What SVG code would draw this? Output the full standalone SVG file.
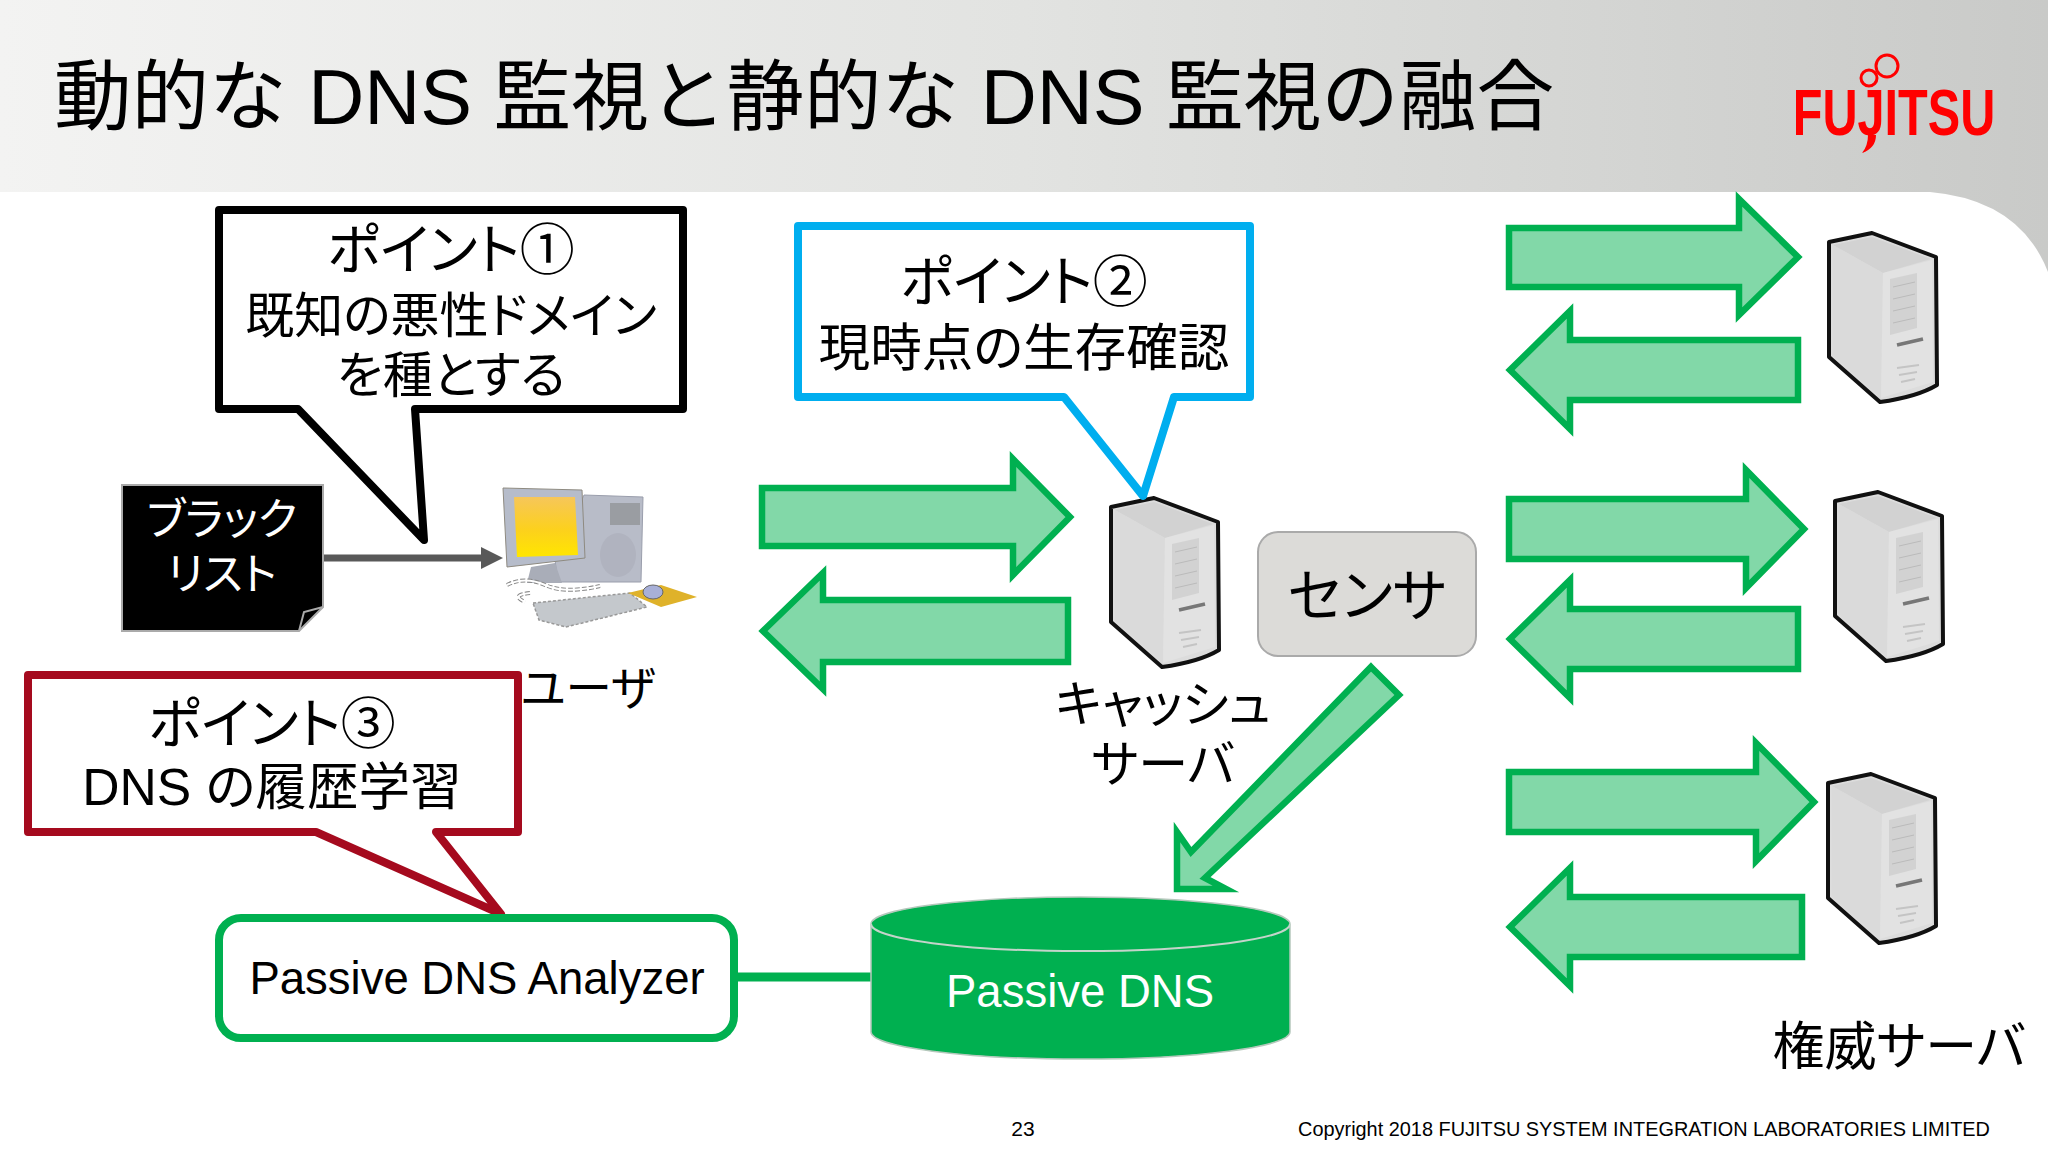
<svg xmlns="http://www.w3.org/2000/svg" xmlns:xlink="http://www.w3.org/1999/xlink" width="2048" height="1152" viewBox="0 0 2048 1152">
<style>
text{font-family:"Liberation Sans","Noto Sans CJK JP",sans-serif;fill:#000;text-anchor:middle;font-feature-settings:"palt"}
.arrow{fill:#82d8a8;stroke:#00b050;stroke-width:6.5;stroke-miterlimit:10}
.callout{fill:#fff;stroke-width:8;stroke-linejoin:round}
.t49{font-size:49px}.t50{font-size:50px}.t52{font-size:51.6px}.t55{font-size:55px}.t45{font-size:45.5px}
</style>
<defs>
<linearGradient id="hdr" x1="0" y1="0" x2="1" y2="0"><stop offset="0" stop-color="#f3f3f2"/><stop offset="0.5" stop-color="#e2e3e1"/><stop offset="1" stop-color="#c9cac8"/></linearGradient>
<linearGradient id="scr" x1="0" y1="0" x2="0" y2="1"><stop offset="0" stop-color="#f6c65a"/><stop offset="0.55" stop-color="#fcd11c"/><stop offset="1" stop-color="#ffe600"/></linearGradient>
<g id="server">
<path d="M2 10L45 1L109 25L110 153Q90 165 53 170L2 125Z" fill="#dcdcdc"/>
<path d="M6 13L45 5L104 27L56 41Z" fill="#d2d2d2"/>
<path d="M6 13L56 41L54 166L6 123Z" fill="#dadada"/>
<path d="M56 41L105 28L106 150L54 166Z" fill="#e2e2e2"/>
<path d="M63 47L90 41L90 96L63 103Z" fill="#d2d2d2"/>
<path d="M66 55L88 50M66 67L88 62M66 79L88 74M66 91L88 86" stroke="#bbb" stroke-width="1"/>
<path d="M70 113L96 107" stroke="#777" stroke-width="3.5"/>
<path d="M70 136L92 133M72 143L90 140M74 150L88 147" stroke="#c4c4c4" stroke-width="2"/>
<path d="M2 10L45 1L109 25L110 153Q90 165 53 170L2 125Z" fill="none" stroke="#111" stroke-width="4" stroke-linejoin="round"/>
</g>
</defs>
<rect width="2048" height="1152" fill="#fff"/>
<path id="header" d="M0 0H2048V272Q2020 200 1930 192H0Z" fill="url(#hdr)"/>
<text x="804" y="124" style="font-size:77.6px;font-feature-settings:normal">動的な DNS 監視と静的な DNS 監視の融合</text>
<g id="logo">
<text transform="translate(1894 135) scale(.76 1)" style="font-size:64px;font-weight:bold;fill:#f00;font-family:'Liberation Sans',sans-serif">FUJITSU</text>
<circle cx="1869" cy="78" r="8" fill="none" stroke="#f00" stroke-width="3"/>
<circle cx="1887" cy="66" r="11" fill="none" stroke="#f00" stroke-width="3"/>
<path d="M1868 135L1876 135Q1876 148 1862 153Q1868 146 1868 135Z" fill="#f00"/>
</g>
<g id="connectors">
<line x1="323" y1="558" x2="484" y2="558" stroke="#595959" stroke-width="7"/>
<path d="M481 547L503 558L481 569Z" fill="#595959"/>
<line x1="736" y1="977" x2="873" y2="977" stroke="#00b050" stroke-width="9"/>
<polygon class="arrow" points="762,488 1013,488 1013,459 1070,517 1013,575 1013,546 762,546"/>
<polygon class="arrow" points="1068,600 823,600 823,573 763,631 823,689 823,662 1068,662"/>
<polygon class="arrow" points="1509,228 1739,228 1739,199 1798,257 1739,315 1739,287 1509,287"/>
<polygon class="arrow" points="1798,340 1570,340 1570,311 1510,370 1570,429 1570,400 1798,400"/>
<polygon class="arrow" points="1509,499 1746,499 1746,470 1804,529 1746,588 1746,559 1509,559"/>
<polygon class="arrow" points="1798,609 1570,609 1570,580 1510,639 1570,698 1570,669 1798,669"/>
<polygon class="arrow" points="1509,772 1756,772 1756,743 1814,802 1756,861 1756,832 1509,832"/>
<polygon class="arrow" points="1802,897 1570,897 1570,868 1510,927 1570,986 1570,957 1802,957"/>
<polygon class="arrow" points="1371,667 1399,695 1205,878 1226,889 1177,889 1177,832 1191,852"/>
</g>
<g id="blacklist">
<path d="M122 485H323V607L299 631H122Z" fill="#000" stroke="#aaa" stroke-width="2"/>
<path d="M323 607L304 612L299 631" fill="none" stroke="#aaa" stroke-width="2"/>
<text x="222" y="535" style="font-size:44px;fill:#fff">ブラック</text>
<text x="222" y="590" style="font-size:44px;fill:#fff">リスト</text>
</g>
<g id="user">
<path d="M584 495L643 497L641 582L558 582L555 560Z" fill="#b8bcc8" stroke="#9a9eac" stroke-width="1"/>
<rect x="610" y="503" width="30" height="22" fill="#9a9da2"/>
<ellipse cx="618" cy="555" rx="18" ry="22" fill="#b0b3bf"/>
<path d="M531 567L555 563L562 583L527 583Z" fill="#a9adb8"/>
<path d="M503 488L582 490L585 558L507 567Z" fill="#b6bcca" stroke="#8e8a80" stroke-width="1"/>
<path d="M514 497L575 497L578 555L517 557Z" fill="url(#scr)"/>
<path d="M507 585Q525 576 545 585T600 586M530 593Q510 595 525 602" fill="none" stroke="#888" stroke-width="4" stroke-dasharray="5 2"/>
<path d="M507 585Q525 576 545 585T600 586M530 593Q510 595 525 602" fill="none" stroke="#fff" stroke-width="2"/>
<path d="M533 603L630 593L647 607L566 627L539 620Z" fill="#c4c8cc" stroke="#999" stroke-width="1.5" stroke-dasharray="3 2"/>
<path d="M628 593L661 585L697 597L661 607Z" fill="#dfb22a"/>
<ellipse cx="653" cy="592" rx="10" ry="7" fill="#a8b0d8" stroke="#666" stroke-width="1"/>
<text x="588" y="705" style="font-size:46.5px">ユーザ</text>
</g>
<g id="cache-server">
<use xlink:href="#server" href="#server" x="1109" y="497"/>
<text x="1163" y="722" class="t50">キャッシュ</text>
<text x="1163" y="782" class="t50">サーバ</text>
</g>
<g id="sensor">
<rect x="1258" y="532" width="218" height="124" rx="20" fill="#dcdbd8" stroke="#aaa" stroke-width="2"/>
<text x="1367" y="616" style="font-size:57px">センサ</text>
</g>
<g id="auth-server-1"><use xlink:href="#server" href="#server" x="1827" y="232"/></g>
<g id="auth-server-2"><use xlink:href="#server" href="#server" x="1833" y="491"/></g>
<g id="auth-server-3"><use xlink:href="#server" href="#server" x="1826" y="773"/></g>
<text id="auth-label" x="1899" y="1065" style="font-size:52px">権威サーバ</text>
<g id="point1">
<path class="callout" stroke="#000" d="M219 210H683V409H415L424 540L298 409H219Z"/>
<text x="451" y="269" class="t55">ポイント①</text>
<text x="451" y="333" class="t49">既知の悪性ドメイン</text>
<text x="451" y="393" class="t50">を種とする</text>
</g>
<g id="point2">
<path class="callout" stroke="#00aeef" stroke-width="7" d="M798 226H1250V397H1174L1143 496L1064 397H798Z"/>
<text x="1024" y="301" class="t55">ポイント②</text>
<text x="1024" y="366" class="t52">現時点の生存確認</text>
</g>
<g id="point3">
<path class="callout" stroke="#a50a1e" d="M28 675H518V832H436L501 914L316 832H28Z"/>
<text x="272" y="743" class="t55">ポイント③</text>
<text x="272" y="805" class="t52">DNS の履歴学習</text>
</g>
<g id="analyzer">
<rect x="219" y="918" width="515" height="120" rx="22" fill="#fff" stroke="#00b050" stroke-width="8"/>
<text x="477" y="994" class="t45">Passive DNS Analyzer</text>
</g>
<g id="passive-dns">
<path d="M871 924A209 27 0 0 1 1290 924V1032A209 27 0 0 1 871 1032Z" fill="#00b050" stroke="#b5c8bc" stroke-width="1.5"/>
<path d="M871 924A209 27 0 0 0 1290 924" fill="none" stroke="#c4d4ca" stroke-width="2"/>
<text x="1080" y="1007" class="t45" style="fill:#fff">Passive DNS</text>
</g>
<text id="page" x="1023" y="1136" style="font-size:21px">23</text>
<text id="copyright" x="1990" y="1136" style="font-size:19.9px;text-anchor:end">Copyright 2018 FUJITSU SYSTEM INTEGRATION LABORATORIES LIMITED</text>
</svg>
